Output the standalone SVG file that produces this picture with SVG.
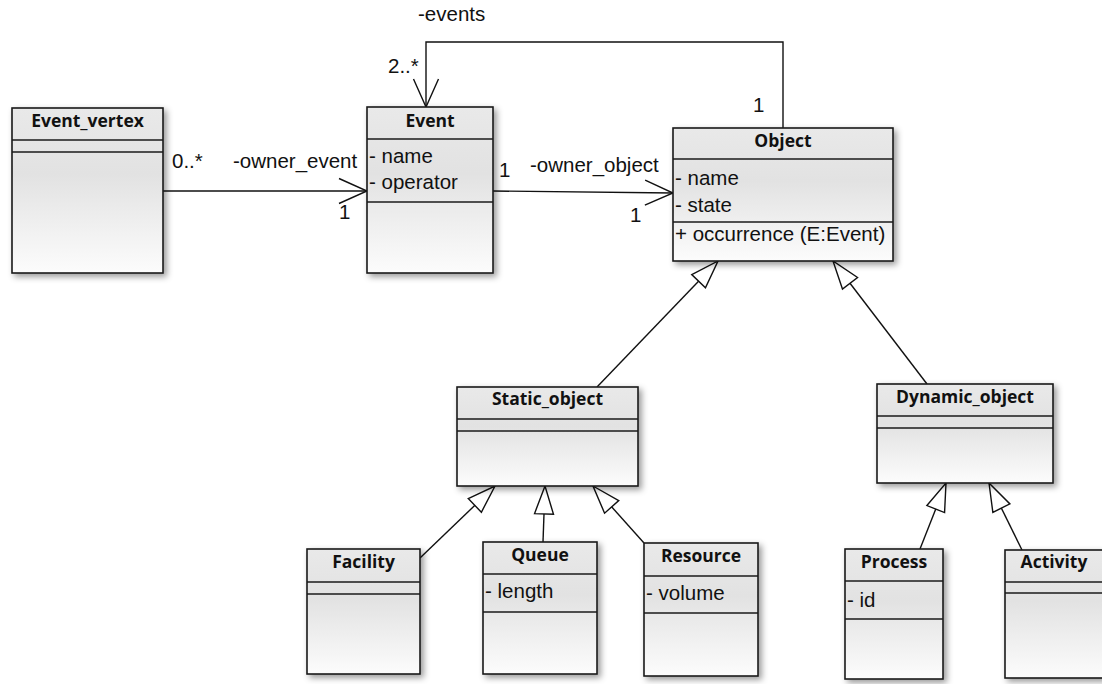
<svg xmlns="http://www.w3.org/2000/svg" width="1102" height="684" viewBox="0 0 1102 684">
<defs>
<linearGradient id="g" x1="0" y1="0" x2="0" y2="1">
<stop offset="0" stop-color="#e9e9e9"/>
<stop offset="0.4" stop-color="#e2e2e2"/>
<stop offset="1" stop-color="#fcfcfc"/>
</linearGradient>
<filter id="sh" x="-20%" y="-20%" width="150%" height="150%">
<feDropShadow dx="3" dy="3" stdDeviation="3" flood-color="#000" flood-opacity="0.4"/>
</filter>
<marker id="open" viewBox="-1 -14 31 28" refX="28" refY="0" markerWidth="31" markerHeight="28" markerUnits="userSpaceOnUse" orient="auto">
<path d="M0,-12.5 L28,0 L0,12.5" fill="none" stroke="#111" stroke-width="1.4"/>
</marker>
<marker id="gen" viewBox="-2 -12 32 24" refX="28" refY="0" markerWidth="32" markerHeight="24" markerUnits="userSpaceOnUse" orient="auto">
<path d="M0,-9.5 L28,0 L0,9.5 Z" fill="#fff" stroke="#111" stroke-width="1.4"/>
</marker>
</defs>
<style>
.box{fill:url(#g);stroke:#1a1a1a;stroke-width:1.6;filter:url(#sh)}
.sep{stroke:#1a1a1a;stroke-width:1.6}
.t{font-family:"Open Sans","DejaVu Sans",sans-serif;font-weight:bold;font-size:17.5px;fill:#111;text-anchor:middle}
.a{font-family:"Liberation Sans",Arial,sans-serif;font-size:20.5px;fill:#111}
.c{fill:none;stroke:#111;stroke-width:1.4}
</style>

<g id="connectors">
<line class="c" x1="163" y1="191" x2="367" y2="191" marker-end="url(#open)"/>
<line class="c" x1="493" y1="191" x2="673" y2="193" marker-end="url(#open)"/>
<polyline class="c" points="783,128 783,42 426,42 426,107" marker-end="url(#open)"/>
<line class="c" x1="597" y1="387" x2="718" y2="261" marker-end="url(#gen)"/>
<line class="c" x1="927" y1="384" x2="833" y2="261" marker-end="url(#gen)"/>
<line class="c" x1="420" y1="558" x2="495" y2="486" marker-end="url(#gen)"/>
<line class="c" x1="543" y1="542" x2="545" y2="486" marker-end="url(#gen)"/>
<line class="c" x1="644" y1="543" x2="593" y2="486" marker-end="url(#gen)"/>
<line class="c" x1="920" y1="549" x2="946" y2="483" marker-end="url(#gen)"/>
<line class="c" x1="1022" y1="550" x2="989" y2="483" marker-end="url(#gen)"/>
<text class="a" x="418" y="21">-events</text>
<text class="a" x="388" y="73">2..*</text>
<text class="a" x="753" y="112">1</text>
<text class="a" x="172" y="168">0..*</text>
<text class="a" x="233" y="168">-owner_event</text>
<text class="a" x="339" y="219">1</text>
<text class="a" x="499" y="177">1</text>
<text class="a" x="530" y="172">-owner_object</text>
<text class="a" x="630" y="222">1</text>
</g>

<g id="Event_vertex">
<rect class="box" x="12" y="108" width="151" height="165"/>
<line class="sep" x1="12" y1="140" x2="163" y2="140"/>
<line class="sep" x1="12" y1="152" x2="163" y2="152"/>
<text class="t" x="87.5" y="127">Event_vertex</text>
</g>

<g id="Event">
<rect class="box" x="367" y="107" width="126" height="166"/>
<line class="sep" x1="367" y1="139" x2="493" y2="139"/>
<line class="sep" x1="367" y1="202" x2="493" y2="202"/>
<text class="t" x="430" y="127">Event</text>
<text class="a" x="369" y="163">- name</text>
<text class="a" x="369" y="189">- operator</text>
</g>

<g id="Object">
<rect class="box" x="673" y="128" width="220" height="133"/>
<line class="sep" x1="673" y1="159" x2="893" y2="159"/>
<line class="sep" x1="673" y1="222" x2="893" y2="222"/>
<text class="t" x="783" y="147">Object</text>
<text class="a" x="675" y="185">- name</text>
<text class="a" x="675" y="212">- state</text>
<text class="a" x="675" y="241">+ occurrence (E:Event)</text>
</g>

<g id="Static_object">
<rect class="box" x="457" y="387" width="181" height="99"/>
<line class="sep" x1="457" y1="419" x2="638" y2="419"/>
<line class="sep" x1="457" y1="431" x2="638" y2="431"/>
<text class="t" x="547.5" y="405">Static_object</text>
</g>

<g id="Dynamic_object">
<rect class="box" x="877" y="384" width="176" height="99"/>
<line class="sep" x1="877" y1="416" x2="1053" y2="416"/>
<line class="sep" x1="877" y1="428" x2="1053" y2="428"/>
<text class="t" x="965" y="403">Dynamic_object</text>
</g>

<g id="Facility">
<rect class="box" x="307" y="549" width="113" height="125"/>
<line class="sep" x1="307" y1="582" x2="420" y2="582"/>
<line class="sep" x1="307" y1="594" x2="420" y2="594"/>
<text class="t" x="363.5" y="568">Facility</text>
</g>

<g id="Queue">
<rect class="box" x="483" y="542" width="114" height="132"/>
<line class="sep" x1="483" y1="574" x2="597" y2="574"/>
<line class="sep" x1="483" y1="612" x2="597" y2="612"/>
<text class="t" x="540" y="561">Queue</text>
<text class="a" x="485" y="598">- length</text>
</g>

<g id="Resource">
<rect class="box" x="644" y="543" width="114" height="133"/>
<line class="sep" x1="644" y1="576" x2="758" y2="576"/>
<line class="sep" x1="644" y1="613" x2="758" y2="613"/>
<text class="t" x="701" y="562">Resource</text>
<text class="a" x="646" y="600">- volume</text>
</g>

<g id="Process">
<rect class="box" x="845" y="549" width="98" height="130"/>
<line class="sep" x1="845" y1="581" x2="943" y2="581"/>
<line class="sep" x1="845" y1="619" x2="943" y2="619"/>
<text class="t" x="894" y="568">Process</text>
<text class="a" x="847" y="607">- id</text>
</g>

<g id="Activity">
<rect class="box" x="1005" y="550" width="98" height="128"/>
<line class="sep" x1="1005" y1="582" x2="1103" y2="582"/>
<line class="sep" x1="1005" y1="593" x2="1103" y2="593"/>
<text class="t" x="1054" y="568">Activity</text>
</g>
</svg>
